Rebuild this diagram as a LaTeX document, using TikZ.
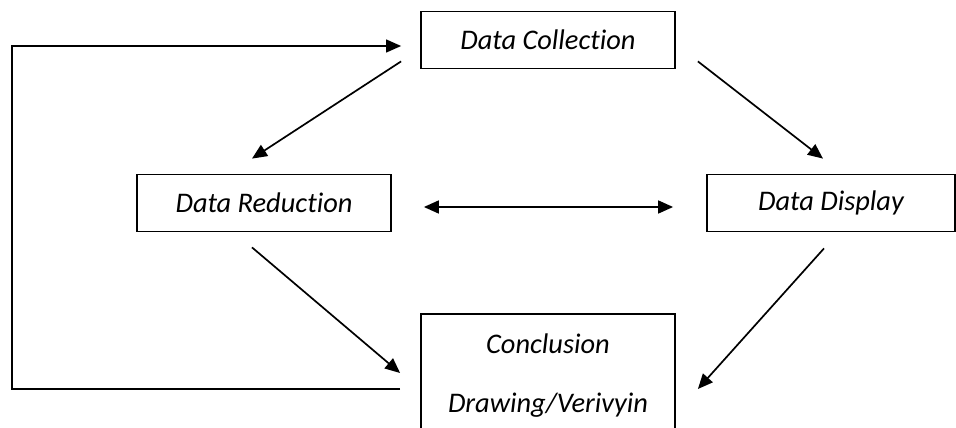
\documentclass[tikz,border=0pt]{standalone}
\usepackage{fontspec}
\setmainfont[Ligatures=NoCommon]{Carlito}
\usetikzlibrary{arrows.meta,calc,positioning}
\tikzset{
  stage/.style={draw,line width=1.8pt,minimum width=254pt,minimum height=57pt,inner sep=0pt,
    font=\fontsize{28.4}{34}\selectfont\itshape},
  label/.style={inner sep=0pt,anchor=base,font=\fontsize{28.4}{34}\selectfont\itshape},
  flow/.style={line width=1.7pt,-{Triangle[length=15pt,width=13pt]}},
  twoway/.style={line width=1.7pt,{Triangle[length=15pt,width=13pt]}-{Triangle[length=15pt,width=13pt]}},
  back/.style={line width=1.3pt,-{Triangle[length=15pt,width=13pt]}}
}
\begin{document}
\begin{tikzpicture}[x=1pt,y=-1pt]
\useasboundingbox (0,0) rectangle (956,428);
% the four stages
\node[stage] (dc) at (548,40) {Data Collection};
\node[stage] (dr) at (264,203) {Data Reduction};
\node[stage,minimum width=248pt] (dd) at (831,203) {Data Display};
\node[stage,minimum height=140pt,anchor=north] (cd) at (548,313) {};
\node[label] (cd1) at ($(cd.north)+(0,40)$) {Conclusion};
\node[label] (cd2) at ($(cd.north)+(0,99)$) {Drawing/Verivyin};
% arrows
\draw[flow] ($(dc.south west)+(-19,-8)$) -- ($(dr.north)+(-12,-15)$);
\draw[flow] ($(dc.south east)+(22,-8)$) -- ($(dd.north)+(-8,-15)$);
\draw[twoway] ($(dr.east)+(32,4)$) -- ($(dd.west)+(-33,4)$);
\draw[flow] ($(dr.south)+(-12,15)$) -- ($(cd.north west)+(-20,60)$);
\draw[flow] ($(dd.south)+(-7,16)$) -- ($(cd.north east)+(22,76)$);
% loop back to collection
\coordinate (turn) at (12,46);
\draw[back] ($(cd.north west)+(-20,76)$) -| (turn) -- ($(dc.west)+(-19,6)$);
\end{tikzpicture}
\end{document}
